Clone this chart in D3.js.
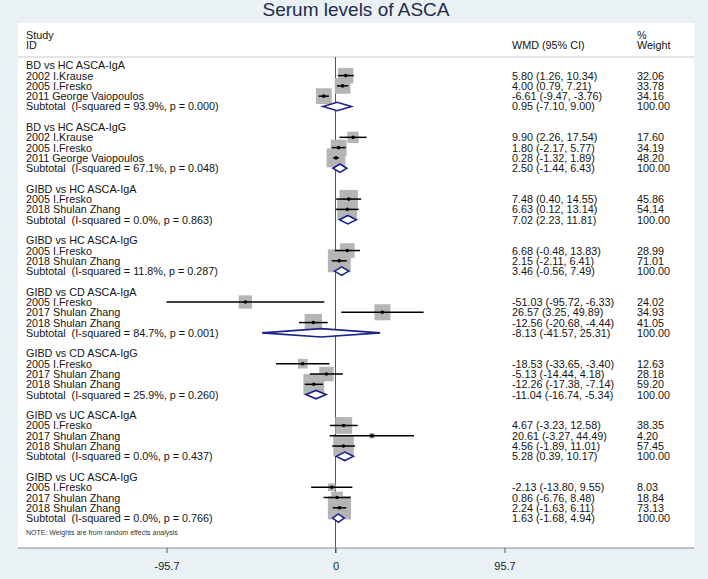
<!DOCTYPE html>
<html>
<head>
<meta charset="utf-8">
<script src="https://cdn.jsdelivr.net/npm/d3@7"></script>
<style>
  html, body { margin: 0; padding: 0; background: #e9f1f4; }
  svg { display: block; }
  text { font-family: "Liberation Sans", Arial, sans-serif; white-space: pre; }
</style>
</head>
<body>
<div id="chart"></div>
<script>
// ---------- data ----------
const title = "Serum levels of ASCA";
const groups = [
  "BD vs HC ASCA-IgA", "BD vs HC ASCA-IgG",
  "GIBD vs HC ASCA-IgA", "GIBD vs HC ASCA-IgG",
  "GIBD vs CD ASCA-IgA", "GIBD vs CD ASCA-IgG",
  "GIBD vs UC ASCA-IgA", "GIBD vs UC ASCA-IgG"
];
const studyGroup = [0,0,0, 1,1,1, 2,2, 3,3, 4,4,4, 5,5,5, 6,6,6, 7,7,7];
const studies = [
  "2002 I.Krause", "2005 I.Fresko", "2011 George Vaiopoulos",
  "2002 I.Krause", "2005 I.Fresko", "2011 George Vaiopoulos",
  "2005 I.Fresko", "2018 Shulan Zhang",
  "2005 I.Fresko", "2018 Shulan Zhang",
  "2005 I.Fresko", "2017 Shulan Zhang", "2018 Shulan Zhang",
  "2005 I.Fresko", "2017 Shulan Zhang", "2018 Shulan Zhang",
  "2005 I.Fresko", "2017 Shulan Zhang", "2018 Shulan Zhang",
  "2005 I.Fresko", "2017 Shulan Zhang", "2018 Shulan Zhang"
];
const wmd    = [5.80, 4.00, -6.61, 9.90, 1.80, 0.28, 7.48, 6.63, 6.68, 2.15, -51.03, 26.57, -12.56, -18.53, -5.13, -12.26, 4.67, 20.61, 4.56, -2.13, 0.86, 2.24];
const ciLow  = [1.26, 0.79, -9.47, 2.26, -2.17, -1.32, 0.40, 0.12, -0.48, -2.11, -95.72, 3.25, -20.68, -33.65, -14.44, -17.38, -3.23, -3.27, -1.89, -13.80, -6.76, -1.63];
const ciHigh = [10.34, 7.21, -3.76, 17.54, 5.77, 1.89, 14.55, 13.14, 13.83, 6.41, -6.33, 49.89, -4.44, -3.40, 4.18, -7.14, 12.58, 44.49, 11.01, 9.55, 8.48, 6.11];
const weight = [32.06, 33.78, 34.16, 17.60, 34.19, 48.20, 45.86, 54.14, 28.99, 71.01, 24.02, 34.93, 41.05, 12.63, 28.18, 59.20, 38.35, 4.20, 57.45, 8.03, 18.84, 73.13];
const subI2   = ["93.9%", "67.1%", "0.0%", "11.8%", "84.7%", "25.9%", "0.0%", "0.0%"];
const subP    = ["0.000", "0.048", "0.863", "0.287", "0.001", "0.260", "0.437", "0.766"];
const subWmd  = [0.95, 2.50, 7.02, 3.46, -8.13, -11.04, 5.28, 1.63];
const subLow  = [-7.10, -1.44, 2.23, -0.56, -41.57, -16.74, 0.39, -1.68];
const subHigh = [9.00, 6.43, 11.81, 7.49, 25.31, -5.34, 10.17, 4.94];
const xTicks = [-95.7, 0, 95.7];
const note = "NOTE: Weights are from random effects analysis";

// ---------- layout ----------
const W = 708, H = 579;
const panel = {x0: 18, x1: 694, y0: 23, y1: 548};
const textX = 26, wmdX = 512, wtX = 637;
const f2 = v => v.toFixed(2);
const ciText = (e, l, h) => `${f2(e)} (${f2(l)}, ${f2(h)})`;

// build row list
const rows = [];
groups.forEach((g, gi) => {
  rows.push({type: "header", label: g});
  studyGroup.forEach((sg, i) => { if (sg === gi) rows.push({type: "study", i}); });
  rows.push({type: "sub", gi});
  if (gi < groups.length - 1) rows.push({type: "blank"});
});

const y = d3.scaleLinear().domain([0, 44]).range([65.3, 518.1]);
const x = d3.scaleLinear().domain([-95.7, 95.7]).range([166.5, 504.5]);
const boxSide = d3.scaleSqrt().domain([0, 100]).range([0, 27.1]);

const svg = d3.select("#chart").append("svg").attr("width", W).attr("height", H);
svg.append("rect").attr("width", W).attr("height", H).attr("fill", "#e9f1f4");
svg.append("rect").attr("x", panel.x0).attr("y", panel.y0)
  .attr("width", panel.x1 - panel.x0).attr("height", panel.y1 - panel.y0).attr("fill", "#ffffff");

svg.append("text").attr("x", 356).attr("y", 16).attr("text-anchor", "middle")
  .attr("font-size", 19).attr("fill", "#1f2b4a").text(title);

const fs = 10.8, tc = "#141414";
// header
const hdr = svg.append("g").attr("font-size", fs).attr("fill", tc).attr("dominant-baseline", "central");
hdr.append("text").attr("x", textX).attr("y", 34.5).text("Study");
hdr.append("text").attr("x", textX).attr("y", 44.5).text("ID");
hdr.append("text").attr("x", wmdX).attr("y", 45).text("WMD (95% CI)");
hdr.append("text").attr("x", wtX).attr("y", 34.5).text("%");
hdr.append("text").attr("x", wtX).attr("y", 45).text("Weight");
svg.append("line").attr("x1", panel.x0).attr("x2", panel.x1).attr("y1", 57).attr("y2", 57)
  .attr("stroke", "#c9c9c9").attr("stroke-width", 1);

// zero line
svg.append("line").attr("x1", x(0)).attr("x2", x(0)).attr("y1", 57).attr("y2", panel.y1 + 5)
  .attr("stroke", "#555").attr("stroke-width", 1);

// rows
const g = svg.append("g");
rows.forEach((r, ri) => {
  const yy = y(ri);
  if (r.type === "header") {
    g.append("text").attr("x", textX).attr("y", yy).attr("dominant-baseline", "central")
      .attr("font-size", fs).attr("fill", tc).text(r.label);
  } else if (r.type === "blank") {
    g.append("text").attr("x", textX).attr("y", yy - 3).attr("dominant-baseline", "central")
      .attr("font-size", 6).attr("fill", "#c8c8c8").text(".");
  } else if (r.type === "study") {
    const i = r.i;
    g.append("text").attr("x", textX).attr("y", yy).attr("dominant-baseline", "central")
      .attr("font-size", fs).attr("fill", tc).text(studies[i]);
    g.append("text").attr("x", wmdX).attr("y", yy).attr("dominant-baseline", "central")
      .attr("font-size", fs).attr("fill", tc).text(ciText(wmd[i], ciLow[i], ciHigh[i]));
    g.append("text").attr("x", wtX).attr("y", yy).attr("dominant-baseline", "central")
      .attr("font-size", fs).attr("fill", tc).text(f2(weight[i]));
    const s = boxSide(weight[i]);
    g.append("rect").attr("x", x(wmd[i]) - s / 2).attr("y", yy - s / 2)
      .attr("width", s).attr("height", s).attr("fill", "#b5b5b5");
  } else if (r.type === "sub") {
    const gi = r.gi;
    g.append("text").attr("x", textX).attr("y", yy).attr("dominant-baseline", "central")
      .attr("font-size", fs).attr("fill", tc)
      .text(`Subtotal  (I-squared = ${subI2[gi]}, p = ${subP[gi]})`);
    g.append("text").attr("x", wmdX).attr("y", yy).attr("dominant-baseline", "central")
      .attr("font-size", fs).attr("fill", tc).text(ciText(subWmd[gi], subLow[gi], subHigh[gi]));
    g.append("text").attr("x", wtX).attr("y", yy).attr("dominant-baseline", "central")
      .attr("font-size", fs).attr("fill", tc).text("100.00");
  }
});
// CI lines, points, diamonds on top of boxes
rows.forEach((r, ri) => {
  const yy = y(ri);
  if (r.type === "study") {
    const i = r.i;
    g.append("line").attr("x1", x(ciLow[i])).attr("x2", x(ciHigh[i])).attr("y1", yy).attr("y2", yy)
      .attr("stroke", "#000").attr("stroke-width", 1.5);
    g.append("circle").attr("cx", x(wmd[i])).attr("cy", yy).attr("r", 1.8).attr("fill", "#000");
  } else if (r.type === "sub") {
    const gi = r.gi, h = 4.2;
    const pts = [[x(subLow[gi]), yy], [x(subWmd[gi]), yy - h], [x(subHigh[gi]), yy], [x(subWmd[gi]), yy + h]];
    g.append("polygon").attr("points", pts.map(p => p.join(",")).join(" "))
      .attr("fill", "#ffffff").attr("stroke", "#1a2388").attr("stroke-width", 1.6);
  }
});

// note
svg.append("text").attr("x", textX).attr("y", 532.7).attr("dominant-baseline", "central")
  .attr("font-size", 7).attr("fill", "#333").text(note);

// bottom axis
svg.append("line").attr("x1", panel.x0).attr("x2", panel.x1).attr("y1", panel.y1).attr("y2", panel.y1)
  .attr("stroke", "#8a8a8a").attr("stroke-width", 1);
const axis = d3.axisBottom(x).tickValues(xTicks).tickSize(5).tickSizeOuter(0)
  .tickFormat(d => String(d));
const ax = svg.append("g").attr("transform", `translate(0,${panel.y1})`).call(axis);
ax.select(".domain").remove();
ax.selectAll(".tick line").attr("stroke", "#555");
ax.selectAll(".tick text").attr("font-size", 11).attr("fill", "#222")
  .attr("font-family", "Liberation Sans, Arial, sans-serif").attr("dy", null).attr("y", 18)
  .attr("dominant-baseline", "central");
</script>
</body>
</html>
